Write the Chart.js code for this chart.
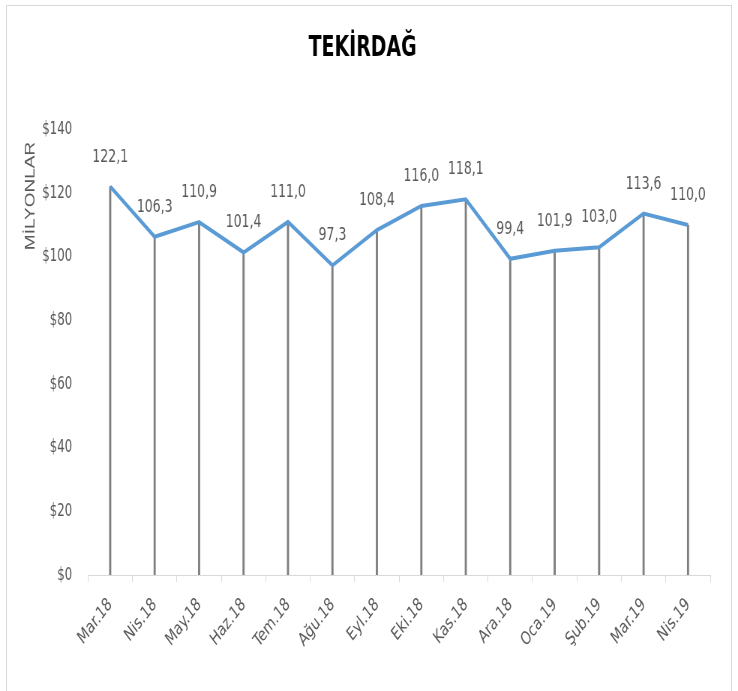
<!DOCTYPE html>
<html>
<head>
<meta charset="utf-8">
<script src="https://cdn.jsdelivr.net/npm/chart.js@4"></script>
<style>
  html, body { margin: 0; padding: 0; background: #fff; }
  #wrap { position: relative; width: 738px; height: 691px; overflow: hidden; }
  #frame { position: absolute; left: 6px; top: 5px; width: 726px; height: 700px; border: 1px solid #d9d9d9; box-sizing: border-box; }
  /* the original chart is squeezed sideways, so draw wide and squeeze */
  canvas { position: absolute; left: 0; top: 0; transform: scaleX(0.75); transform-origin: 0 0; }
</style>
</head>
<body>
<div id="wrap">
  <div id="frame"></div>
  <canvas id="chart" width="984" height="691"></canvas>
</div>
<script>
const months = ["Mar.18", "Nis.18", "May.18", "Haz.18", "Tem.18", "Ağu.18", "Eyl.18",
  "Eki.18", "Kas.18", "Ara.18", "Oca.19", "Şub.19", "Mar.19", "Nis.19"];
const values = [122.1, 106.3, 110.9, 101.4, 111.0, 97.3, 108.4, 116.0, 118.1, 99.4, 101.9, 103.0, 113.6, 110.0];
const yTicks = [0, 20, 40, 60, 80, 100, 120, 140];

const cond = "'DejaVu Sans Condensed', 'Liberation Sans Narrow', 'Liberation Sans', sans-serif";

// value labels above each point + the rotated unit title at top left
const extras = {
  id: "extras",
  afterDatasetsDraw(chart) {
    const ctx = chart.ctx;
    const meta = chart.getDatasetMeta(1);
    ctx.save();
    ctx.font = "18.5px " + cond;
    ctx.fillStyle = "#595959";
    ctx.textAlign = "center";
    ctx.textBaseline = "alphabetic";
    meta.data.forEach((pt, i) => {
      ctx.fillText(values[i].toFixed(1).replace(".", ","), pt.x, pt.y - 25);
    });
    ctx.restore();

    ctx.save();
    ctx.translate(41, 196);
    ctx.rotate(-Math.PI / 2);
    ctx.font = "19px 'Liberation Sans', Arial, sans-serif";
    ctx.fillStyle = "#595959";
    ctx.textAlign = "center";
    ctx.textBaseline = "middle";
    ctx.fillText("MİLYONLAR", 0, 0);
    ctx.restore();
  }
};

new Chart(document.getElementById("chart").getContext("2d"), {
  type: "bar",
  data: {
    labels: months,
    datasets: [
      {
        type: "bar",
        data: values,
        backgroundColor: "#7f7f7f",
        barThickness: 2.2,
        order: 2
      },
      {
        type: "line",
        data: values,
        borderColor: "#5b9bd5",
        borderWidth: 4,
        pointRadius: 0,
        tension: 0,
        fill: false,
        order: 1
      }
    ]
  },
  options: {
    responsive: false,
    animation: false,
    layout: { padding: { left: 20, right: 37, top: 0, bottom: 0 } },
    plugins: {
      legend: { display: false },
      tooltip: { enabled: false },
      title: {
        display: true,
        text: "TEKİRDAĞ",
        color: "#000",
        font: { family: cond, size: 28, weight: "bold", lineHeight: 1.2 },
        padding: { top: 32, bottom: 64 }
      }
    },
    scales: {
      x: {
        offset: true,
        grid: {
          offset: true,
          drawOnChartArea: false,
          drawTicks: true,
          tickLength: 7,
          color: "#d9d9d9"
        },
        border: { display: true, color: "#d9d9d9" },
        ticks: {
          minRotation: 45,
          maxRotation: 45,
          padding: 12,
          color: "#595959",
          font: { family: cond, size: 18.5 }
        },
        afterFit(scale) { scale.height = 116; }
      },
      y: {
        min: 0,
        max: 140,
        afterBuildTicks(scale) { scale.ticks = yTicks.map(v => ({ value: v })); },
        grid: { display: false, drawTicks: false },
        border: { display: false },
        ticks: {
          padding: 21,
          color: "#595959",
          font: { family: cond, size: 17.5 },
          callback: v => "$" + v
        },
        afterFit(scale) { scale.width = 97.3; }
      }
    }
  },
  plugins: [extras]
});
</script>
</body>
</html>
